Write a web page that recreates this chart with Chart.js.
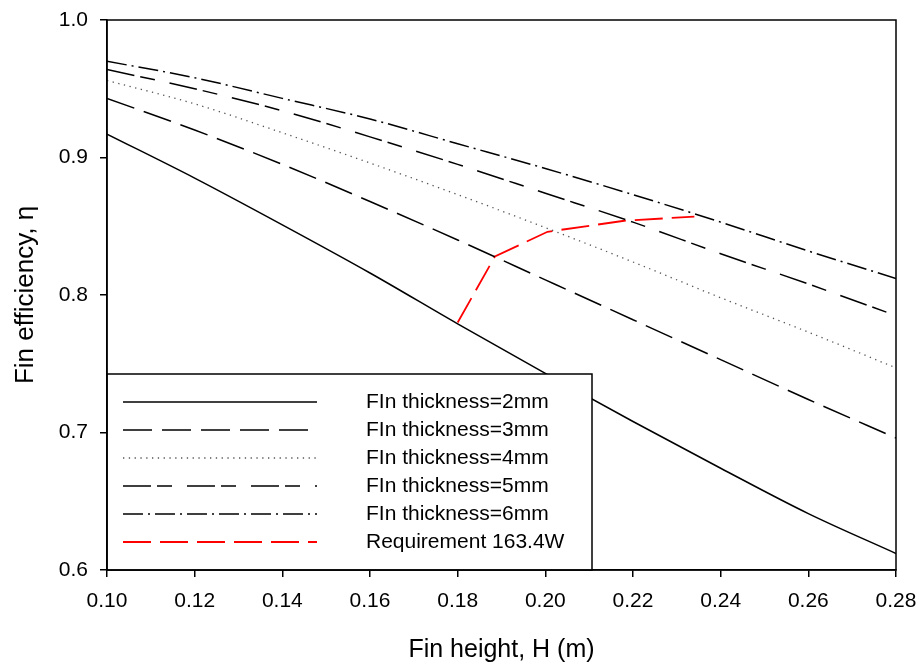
<!DOCTYPE html>
<html>
<head>
<meta charset="utf-8">
<script src="https://cdn.jsdelivr.net/npm/chart.js@4.4.0/dist/chart.umd.min.js"></script>
<style>
  body { margin: 0; background: #fff; }
</style>
</head>
<body>
<canvas id="myChart" width="923" height="667"></canvas>
<script>
const heights = [0.10, 0.12, 0.14, 0.16, 0.18, 0.20, 0.22, 0.24, 0.26, 0.28];
const eta2mm = [0.917, 0.885, 0.851, 0.816, 0.779, 0.743, 0.708, 0.674, 0.641, 0.612];
const eta3mm = [0.943, 0.920, 0.895, 0.868, 0.840, 0.811, 0.782, 0.753, 0.724, 0.696];
const eta4mm = [0.956, 0.939, 0.918, 0.896, 0.873, 0.849, 0.824, 0.798, 0.773, 0.747];
const eta5mm = [0.964, 0.950, 0.934, 0.915, 0.895, 0.874, 0.853, 0.830, 0.808, 0.785];
const eta6mm = [0.970, 0.958, 0.943, 0.928, 0.910, 0.892, 0.873, 0.853, 0.832, 0.812];
const reqHeights = [0.180, 0.1885, 0.2005, 0.218, 0.234];
const reqEta = [0.780, 0.828, 0.846, 0.854, 0.857];
const xTicks = [0.10, 0.12, 0.14, 0.16, 0.18, 0.20, 0.22, 0.24, 0.26, 0.28];
const yTicks = [0.6, 0.7, 0.8, 0.9, 1.0];
const labels = ['FIn thickness=2mm', 'FIn thickness=3mm', 'FIn thickness=4mm',
                'FIn thickness=5mm', 'FIn thickness=6mm', 'Requirement 163.4W'];

const FONT = "'Liberation Sans', Arial, sans-serif";

function pairs(xs, ys) {
    return xs.map((x, i) => ({x: x, y: ys[i]}));
}

function line(label, xs, ys, color, dash, width, smooth) {
    return {
        label: label,
        data: pairs(xs, ys),
        showLine: true,
        fill: false,
        borderColor: color,
        backgroundColor: color,
        borderWidth: width,
        borderDash: dash,
        pointRadius: 0,
        cubicInterpolationMode: smooth ? 'monotone' : 'default',
        tension: 0
    };
}

// legend box sitting in the lower-left corner of the plot
const boxLegend = {
    id: 'boxLegend',
    afterDatasetsDraw(chart) {
        const ctx = chart.ctx;
        const area = chart.chartArea;
        const left = area.left, right = 592, top = 374, bottom = area.bottom;
        ctx.save();
        ctx.fillStyle = '#fff';
        ctx.fillRect(left, top, right - left, bottom - top);
        ctx.strokeStyle = '#000';
        ctx.lineWidth = 1.5;
        ctx.strokeRect(left, top, right - left, bottom - top);
        ctx.font = '21px ' + FONT;
        ctx.textBaseline = 'middle';
        chart.data.datasets.forEach((ds, i) => {
            const y = 402 + i * 28;
            ctx.beginPath();
            ctx.setLineDash(ds.borderDash || []);
            ctx.strokeStyle = ds.borderColor;
            ctx.lineWidth = ds.borderWidth;
            ctx.moveTo(123, y);
            ctx.lineTo(317, y);
            ctx.stroke();
            ctx.setLineDash([]);
            ctx.fillStyle = '#000';
            ctx.fillText(ds.label, 366, y);
        });
        ctx.restore();
    },
    afterDraw(chart) {
        const ctx = chart.ctx;
        const a = chart.chartArea;
        ctx.save();
        ctx.strokeStyle = '#000';
        ctx.lineWidth = 1.5;
        ctx.strokeRect(a.left, a.top, a.right - a.left, a.bottom - a.top);
        ctx.restore();
    }
};

const ctx = document.getElementById('myChart').getContext('2d');
const effChart = new Chart(ctx, {
    type: 'scatter',
    data: {
        datasets: [
            line(labels[0], heights, eta2mm, '#000', [], 1.5, true),
            line(labels[1], heights, eta3mm, '#000', [29, 10], 1.5, true),
            line(labels[2], heights, eta4mm, '#555', [1.3, 4.5], 1.3, true),
            line(labels[3], heights, eta5mm, '#000', [28, 6, 15, 15], 1.5, true),
            line(labels[4], heights, eta6mm, '#000', [20, 5, 2, 5], 1.5, true),
            line(labels[5], reqHeights, reqEta, '#ff0000', [28, 9], 1.8, false)
        ]
    },
    options: {
        responsive: false,
        animation: false,
        layout: { padding: { top: 20, right: 27, left: 0, bottom: 0 } },
        plugins: {
            legend: { display: false },
            tooltip: { enabled: false }
        },
        scales: {
            x: {
                type: 'linear',
                min: 0.10,
                max: 0.28,
                afterBuildTicks: (scale) => { scale.ticks = xTicks.map(v => ({value: v})); },
                afterFit: (scale) => {
                    scale.height = 97;
                    scale.paddingLeft = 0;
                    scale.paddingRight = 0;
                },
                ticks: {
                    color: '#000',
                    font: { family: FONT, size: 21 },
                    padding: 12,
                    callback: (v) => Number(v).toFixed(2)
                },
                grid: { drawOnChartArea: false, drawTicks: true, tickLength: 7, color: '#000', lineWidth: 1.5 },
                border: { color: '#000', width: 1.5 },
                title: {
                    display: true,
                    text: 'Fin height, H (m)',
                    color: '#000',
                    font: { family: FONT, size: 25 },
                    padding: { top: 0, bottom: 2 }
                }
            },
            y: {
                type: 'linear',
                min: 0.6,
                max: 1.0,
                afterBuildTicks: (scale) => { scale.ticks = yTicks.map(v => ({value: v})); },
                afterFit: (scale) => {
                    scale.width = 107;
                    scale.paddingTop = 0;
                    scale.paddingBottom = 0;
                },
                ticks: {
                    color: '#000',
                    font: { family: FONT, size: 21 },
                    padding: 12,
                    callback: (v) => Number(v).toFixed(1)
                },
                grid: { drawOnChartArea: false, drawTicks: true, tickLength: 7, color: '#000', lineWidth: 1.5 },
                border: { color: '#000', width: 1.5 },
                title: {
                    display: true,
                    text: 'Fin efficiency, η',
                    color: '#000',
                    font: { family: FONT, size: 26 },
                    padding: { top: 10, bottom: 0 }
                }
            }
        }
    },
    plugins: [boxLegend]
});
</script>
</body>
</html>
